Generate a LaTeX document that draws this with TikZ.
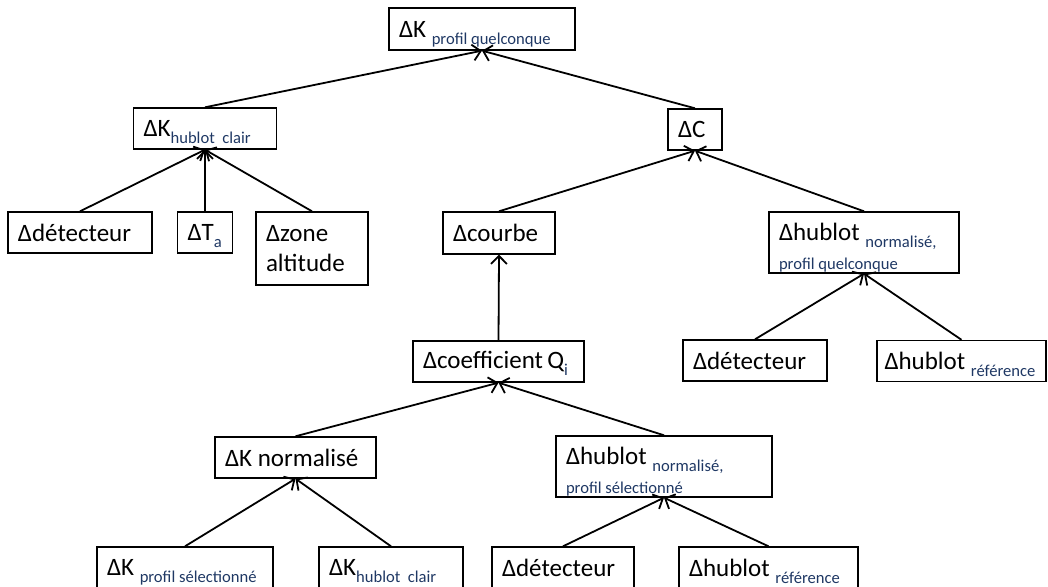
\documentclass[tikz,border=0pt]{standalone}
\usepackage{fontspec}
\setmainfont{Carlito}
\usetikzlibrary{arrows.meta}
\definecolor{subblue}{HTML}{1F3864}
\newcommand{\mainsize}{\fontsize{12.5}{15}\selectfont}
\newcommand{\subsize}{\fontsize{8.3}{10}\selectfont\spaceskip=0pt\xspaceskip=0pt\relax}
\newcommand{\lowsub}[1]{\raisebox{-3.5pt}[0pt][0pt]{\subsize\color{subblue}#1}}
\newcommand{\toprule}{\rule{0pt}{13.5pt}}
\begin{document}
\begin{tikzpicture}[>={Straight Barb[length=4pt,width=8pt]},x=0.5pt,y=-0.5pt,
  box/.style={draw,line width=0.7pt,inner xsep=5pt,inner ysep=0pt,align=flush left,
    font=\mainsize,minimum height=20.5pt}]
  \useasboundingbox (0,0) rectangle (1048,587);
  % top level
  \node[box,text width=83pt,minimum height=21pt] (kpq) at (482,29) {ΔK \lowsub{profil quelconque}};
  \node[box,text width=61.5pt] (khc) at (205,128.5) {ΔK\lowsub{hublot\ \ clair}};
  \node[box,text width=17pt] (dc) at (695,129.5) {ΔC};
  % inputs of K hublot clair
  \node[box,text width=62pt] (det1) at (80,232.5) {Δdétecteur};
  \node[box,text width=17.5pt] (dta) at (205,232.5) {ΔT\lowsub{a}};
  \node[box,text width=46pt,minimum height=36.5pt] (zone) at (312,248.5) {Δzone\\altitude};
  % inputs of C
  \node[box,text width=46pt,minimum height=21pt] (courbe) at (499,233) {Δcourbe};
  \node[box,text width=85pt,minimum height=30.5pt] (hnq) at (864,242.5)
    {\toprule Δhublot \lowsub{normalisé,}\\[-0.5pt]{\subsize\color{subblue}profil quelconque}};
  \node[box,text width=75.5pt] (coef) at (498.5,361.5) {Δcoefficient\,Q\lowsub{i}};
  \node[box,text width=62pt] (det2) at (755,360.5) {Δdétecteur};
  \node[box,text width=77pt,inner xsep=3.75pt] (href1) at (961.5,361) {Δhublot \lowsub{référence}};
  % inputs of coefficient Q
  \node[box,text width=70.5pt] (kn) at (295.5,457.5) {ΔK normalisé};
  \node[box,text width=98pt,minimum height=30.5pt] (hns) at (664,466.5)
    {\toprule Δhublot \lowsub{normalisé,}\\[-0.5pt]{\subsize\color{subblue}profil sélectionné}};
  % bottom row
  \node[box,text width=78pt] (kps) at (185,567.5) {ΔK \lowsub{profil sélectionné}};
  \node[box,text width=62pt] (khc2) at (391,567.5) {ΔK\lowsub{hublot\ \ clair}};
  \node[box,text width=61pt] (det3) at (563,567.5) {Δdétecteur};
  \node[box,text width=79.5pt] (href2) at (768.5,567.5) {Δhublot \lowsub{référence}};
  \path[->,line width=0.9pt]
    (khc.north) edge (kpq.south)
    (dc.north) edge (kpq.south)
    (det1.north) edge (khc.south)
    (dta.north) edge (khc.south)
    (zone.north) edge (khc.south)
    (courbe.north) edge (dc.south)
    (hnq.north) edge (dc.south)
    (coef.north) edge (courbe.south)
    (det2.north) edge (hnq.south)
    (href1.north) edge (hnq.south)
    (kn.north) edge (coef.south)
    (hns.north) edge (coef.south)
    (kps.north) edge (kn.south)
    (khc2.north) edge (kn.south)
    (det3.north) edge (hns.south)
    (href2.north) edge (hns.south);
\end{tikzpicture}
\end{document}
